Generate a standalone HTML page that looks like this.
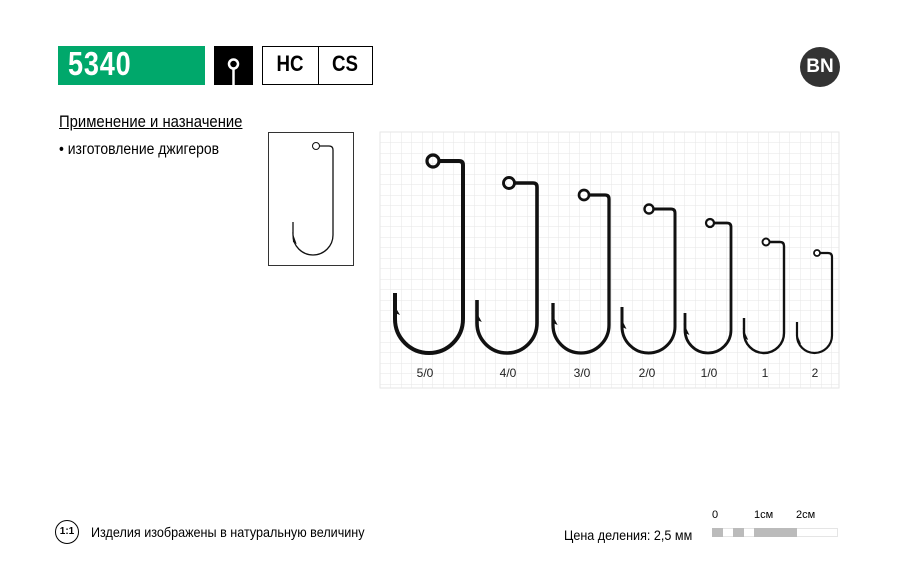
<!DOCTYPE html>
<html><head><meta charset="utf-8"><style>
body{margin:0;width:900px;height:575px;background:#fff;font-family:"Liberation Sans",sans-serif;position:relative;overflow:hidden}
.a{position:absolute}
</style></head><body>
<div class="a" style="left:58px;top:46px;width:147px;height:39px;background:#00a86b"></div>
<div class="a" style="left:68px;top:45px;font-size:33px;font-weight:bold;color:#fff;transform:scaleX(0.82);transform-origin:left;letter-spacing:1px">5340</div>
<div class="a" style="left:214px;top:46px;width:39px;height:39px;background:#000"></div>
<svg class="a" style="left:214px;top:46px" width="39" height="39"><circle cx="19.5" cy="18" r="4.5" fill="none" stroke="#fff" stroke-width="2.5"/><line x1="19.5" y1="22" x2="19.5" y2="39" stroke="#fff" stroke-width="2.5"/></svg>
<div class="a" style="left:262px;top:46px;width:109px;height:37px;border:1px solid #000"></div>
<div class="a" style="left:318px;top:46px;width:1px;height:39px;background:#000"></div>
<div class="a" style="left:262px;top:51px;width:56px;text-align:center;font-size:22px;font-weight:bold;transform:scaleX(0.85)">HC</div>
<div class="a" style="left:318px;top:51px;width:54px;text-align:center;font-size:22px;font-weight:bold;transform:scaleX(0.85)">CS</div>
<div class="a" style="left:800px;top:47px;width:40px;height:40px;border-radius:50%;background:#333;color:#fff;font-weight:bold;font-size:19px;text-align:center;line-height:40px">BN</div>
<div class="a" style="left:59px;top:113px;font-size:16.5px;text-decoration:underline;transform:scaleX(0.9);transform-origin:left">Применение и назначение</div>
<div class="a" style="left:59px;top:141px;font-size:15.5px;transform:scaleX(0.9);transform-origin:left">• изготовление джигеров</div>
<div class="a" style="left:268px;top:132px;width:84px;height:132px;border:1px solid #333"></div>
<svg class="a" style="left:0;top:0" width="900" height="575">
<defs><pattern id="g" width="10.5" height="10.5" patternUnits="userSpaceOnUse" x="380" y="132"><path d="M0 0H10.5M0 0V10.5" stroke="#e6e6e6" stroke-width="1" fill="none"/></pattern></defs>
<rect x="380" y="132" width="459" height="256" fill="url(#g)" stroke="#e6e6e6"/>
<g fill="none" stroke="#111" id="hooks"></g>
<g font-family="Liberation Sans" font-size="12" text-anchor="middle" fill="#222">
<text x="425" y="377">5/0</text><text x="508" y="377">4/0</text><text x="582" y="377">3/0</text><text x="647" y="377">2/0</text><text x="709" y="377">1/0</text><text x="765" y="377">1</text><text x="815" y="377">2</text></g>
</svg>
<div class="a" style="left:55px;top:520px;width:22px;height:22px;border:1.5px solid #000;border-radius:50%;font-size:10px;font-weight:bold;text-align:center;line-height:22px">1:1</div>
<div class="a" style="left:91px;top:524px;font-size:14px;transform:scaleX(0.9);transform-origin:left">Изделия изображены в натуральную величину</div>
<div class="a" style="left:564px;top:527px;font-size:14px;transform:scaleX(0.9);transform-origin:left">Цена деления: 2,5 мм</div>
<div class="a" style="left:712px;top:509px;font-size:11px">0</div>
<div class="a" style="left:754px;top:509px;font-size:11px">1см</div>
<div class="a" style="left:796px;top:509px;font-size:11px">2см</div>
<div class="a" style="left:712px;top:528px;width:126px;height:9px;border:1px solid #e5e5e5;box-sizing:border-box"></div>
<div class="a" style="left:712px;top:528px;width:11px;height:9px;background:#bbb"></div>
<div class="a" style="left:733px;top:528px;width:11px;height:9px;background:#bbb"></div>
<div class="a" style="left:754px;top:528px;width:43px;height:9px;background:#bbb"></div>
<script>
var H=[[433,161,6,463,353,395,293,4],[509,183,5.5,537,353,477,300,3.6],[584,195,5,609,353,553,303,3.3],[649,209,4.5,675,353,622,307,3],[710,223,4,731,353,685,313,2.8],[766,242,3.5,784,353,744,318,2.4],[817,253,3,832,353,797,322,2.2],[316,146,3.5,333,255,293,222,1.3]];
var s='';
H.forEach(function(h){var ex=h[0],ey=h[1],r=h[2],sx=h[3],b=h[4],lx=h[5],pt=h[6],w=h[7];var R=(sx-lx)/2;
s+='<circle cx="'+ex+'" cy="'+ey+'" r="'+r+'" stroke-width="'+w*0.8+'"/>';
s+='<path stroke-width="'+w+'" d="M'+(ex+r)+' '+ey+'L'+(sx-4)+' '+ey+'Q'+sx+' '+ey+' '+sx+' '+(ey+4)+'L'+sx+' '+(b-R)+'A'+R+' '+R+' 0 0 1 '+lx+' '+(b-R)+'L'+lx+' '+pt+'"/>';
s+='<path fill="#111" stroke="none" d="M'+(lx-w/2)+' '+(pt+10)+'L'+(lx+w/2+3)+' '+(pt+22)+'L'+(lx)+' '+(pt+20)+'Z"/>';});
document.getElementById('hooks').innerHTML=s;
</script>
</body></html>
